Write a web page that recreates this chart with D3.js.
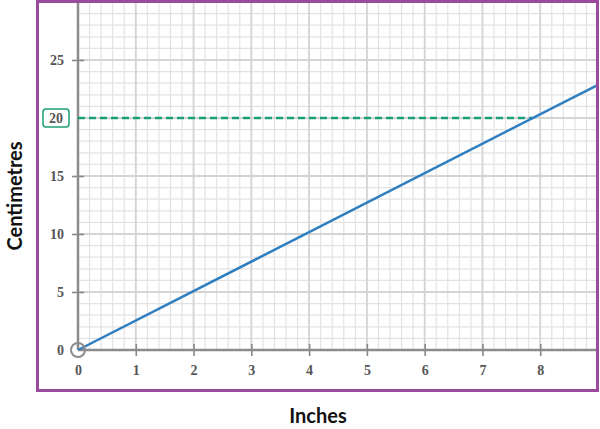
<!DOCTYPE html>
<html>
<head>
<meta charset="utf-8">
<script src="https://cdn.jsdelivr.net/npm/d3@7"></script>
<style>
  body { margin: 0; background: #fff; }
</style>
</head>
<body>
<div id="chart"></div>
<script>
const width = 600;
const height = 429;

// data
const xTicks = [0, 1, 2, 3, 4, 5, 6, 7, 8];
const yTicks = [0, 5, 10, 15, 20, 25];
const inches = [0, 9];
const centimetres = [0, 22.86];
const highlightCm = 20;
const highlightIn = 7.87;

const margin = { top: 2, right: 2, bottom: 79, left: 78 };

const serif = "'Liberation Serif', 'DejaVu Serif', serif";

const svg = d3.select("#chart").append("svg")
   .attr("width", width)
   .attr("height", height);

const x = d3.scaleLinear()
   .domain([0, 9])
   .range([margin.left, width - margin.right]);

const y = d3.scaleLinear()
   .domain([0, 30])
   .range([height - margin.bottom, margin.top]);

// grid - minor first, then major
const minorX = d3.range(0, 9.01, 0.2);
const minorY = d3.range(0, 30.01, 1);

svg.append("g").selectAll("line")
   .data(minorX)
   .enter().append("line")
   .attr("x1", d => x(d)).attr("x2", d => x(d))
   .attr("y1", y(0)).attr("y2", y(30))
   .attr("stroke", "#e3e3e3").attr("stroke-width", 1.2);

svg.append("g").selectAll("line")
   .data(minorY)
   .enter().append("line")
   .attr("x1", x(0)).attr("x2", x(9))
   .attr("y1", d => y(d)).attr("y2", d => y(d))
   .attr("stroke", "#e3e3e3").attr("stroke-width", 1.2);

svg.append("g").selectAll("line")
   .data(d3.range(1, 10))
   .enter().append("line")
   .attr("x1", d => x(d)).attr("x2", d => x(d))
   .attr("y1", y(0)).attr("y2", y(30))
   .attr("stroke", "#d4d4d4").attr("stroke-width", 1.8);

svg.append("g").selectAll("line")
   .data(d3.range(5, 31, 5))
   .enter().append("line")
   .attr("x1", x(0)).attr("x2", x(9))
   .attr("y1", d => y(d)).attr("y2", d => y(d))
   .attr("stroke", "#d4d4d4").attr("stroke-width", 1.8);

// axes
const xAxis = d3.axisBottom(x)
   .tickValues(xTicks)
   .tickSize(6)
   .tickPadding(9)
   .tickFormat(d3.format("d"));

const gx = svg.append("g")
   .attr("transform", `translate(0, ${y(0)})`)
   .call(xAxis);
gx.select(".domain").remove();
gx.selectAll(".tick line").attr("y1", -6).attr("stroke", "#888").attr("stroke-width", 1.6);
gx.selectAll(".tick").filter(d => d === 0).select("line").remove();

const yAxis = d3.axisLeft(y)
   .tickValues(yTicks)
   .tickSize(6)
   .tickPadding(10)
   .tickFormat(d3.format("d"));

const gy = svg.append("g")
   .attr("transform", `translate(${x(0)}, 0)`)
   .call(yAxis);
gy.select(".domain").remove();
gy.selectAll(".tick line").attr("x2", 6).attr("x1", -6).attr("stroke", "#888").attr("stroke-width", 1.6);
gy.selectAll(".tick text").attr("x", -14);
gy.selectAll(".tick").filter(d => d === 0 || d === highlightCm).select("line").remove();
gy.selectAll(".tick").filter(d => d === highlightCm).select("text").remove();

svg.selectAll(".tick text")
   .style("font-family", serif)
   .style("font-size", "14px")
   .style("font-weight", "bold")
   .style("fill", "#555");

// axis lines
svg.append("line")
   .attr("x1", x(0)).attr("x2", x(9))
   .attr("y1", y(0)).attr("y2", y(0))
   .attr("stroke", "#8c8c8c").attr("stroke-width", 2.5);
svg.append("line")
   .attr("x1", x(0)).attr("x2", x(0))
   .attr("y1", y(0)).attr("y2", y(30))
   .attr("stroke", "#8c8c8c").attr("stroke-width", 2.5);

// highlight dashed line at 20 cm
svg.append("line")
   .attr("x1", x(0)).attr("x2", x(highlightIn))
   .attr("y1", y(highlightCm)).attr("y2", y(highlightCm))
   .attr("stroke", "#1a9e77").attr("stroke-width", 2.5)
   .attr("stroke-dasharray", "7,4");

// conversion line
const pts = inches.map((d, i) => [d, centimetres[i]]);
svg.append("path")
   .datum(pts)
   .attr("fill", "none")
   .attr("stroke", "#2f7fc0")
   .attr("stroke-width", 2.5)
   .attr("d", d3.line().x(d => x(d[0])).y(d => y(d[1])));

// origin circle
svg.append("circle")
   .attr("cx", x(0)).attr("cy", y(0)).attr("r", 7)
   .attr("fill", "none").attr("stroke", "#8c8c8c").attr("stroke-width", 2);

// boxed label 20
const lbl = svg.append("g").attr("transform", `translate(${x(0) - 22}, ${y(highlightCm)})`);
lbl.append("rect")
   .attr("x", -13).attr("y", -9).attr("width", 26).attr("height", 18).attr("rx", 3)
   .attr("fill", "#fff").attr("stroke", "#1a9e77").attr("stroke-width", 1.5);
lbl.append("text")
   .attr("text-anchor", "middle")
   .attr("dy", "0.35em")
   .style("font-family", serif)
   .style("font-size", "14px")
   .style("font-weight", "bold")
   .style("fill", "#555")
   .text(highlightCm);

// frame
svg.append("rect")
   .attr("x", 37.5).attr("y", 1.5)
   .attr("width", 560).attr("height", 389)
   .attr("fill", "none")
   .attr("stroke", "#9a4a9f")
   .attr("stroke-width", 3);

// titles
svg.append("text")
   .attr("x", 318).attr("y", 423)
   .attr("text-anchor", "middle")
   .style("font-family", "Lato, 'Noto Sans', sans-serif")
   .style("font-weight", "bold")
   .style("font-size", "20px")
   .style("fill", "#111")
   .text("Inches");

svg.append("text")
   .attr("transform", "translate(22, 196) rotate(-90)")
   .attr("text-anchor", "middle")
   .style("font-family", "Lato, 'Noto Sans', sans-serif")
   .style("font-weight", "bold")
   .style("font-size", "20px")
   .style("fill", "#111")
   .text("Centimetres");
</script>
</body>
</html>
